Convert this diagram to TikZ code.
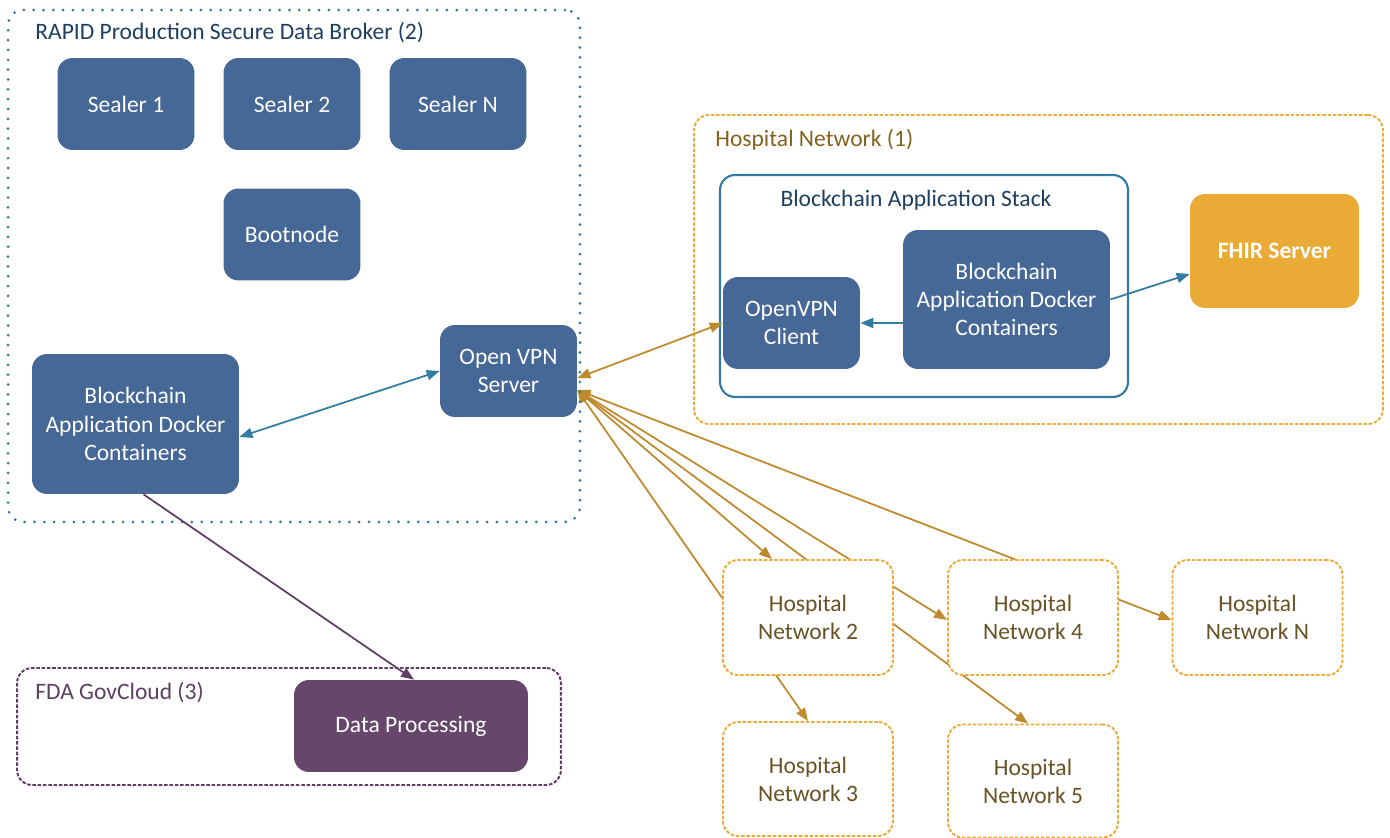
\documentclass[tikz,border=0pt]{standalone}
\usepackage{fontspec}
\setmainfont{Carlito}
\usetikzlibrary{arrows.meta,positioning,calc}
\pgfdeclarelayer{back}
\pgfsetlayers{back,main}

\definecolor{boxBlue}{RGB}{70,104,150}
\definecolor{lineBlue}{RGB}{49,124,160}
\definecolor{dotBlue}{RGB}{46,117,160}
\definecolor{titleBlue}{RGB}{31,63,96}
\definecolor{hospLine}{RGB}{190,138,45}
\definecolor{hospEdge}{RGB}{236,170,56}
\definecolor{hospText}{RGB}{105,82,35}
\definecolor{hospTitle}{RGB}{130,98,30}
\definecolor{fhirFill}{RGB}{233,171,53}
\definecolor{dpFill}{RGB}{103,70,107}
\definecolor{dpEdge}{RGB}{95,62,100}

\begin{document}
\begin{tikzpicture}[x=0.02cm, y=-0.02cm,
            >={Triangle[length=0.26cm,width=0.2cm]},
            every node/.style={font=\fontsize{13.4}{16}\selectfont, align=center},
            blockbox/.style={fill=boxBlue, text=white, rounded corners=0.3cm,
                             minimum width=2.74cm, minimum height=1.84cm},
            dockbox/.style={blockbox, minimum width=4.14cm, minimum height=2.8cm},
            hospbox/.style={draw=hospEdge, fill=white, line width=1.1pt,
                            dash pattern=on 2pt off 1pt, rounded corners=0.3cm,
                            text=hospText, minimum width=3.4cm, minimum height=2.3cm},
            framebox/.style={rounded corners=0.3cm, inner sep=0pt},
            title/.style={anchor=west, inner sep=0pt},
            bluelink/.style={draw=lineBlue, line width=1pt},
            hosplink/.style={draw=hospLine, line width=1pt}]
        \useasboundingbox (0,0) rectangle (1390,838);

        \node[framebox, draw=dotBlue, line width=1.7pt, line cap=round,
              dash pattern=on 0pt off 5.6pt,
              minimum width=11.44cm, minimum height=10.24cm] (nodeBroker) at (294,266) {};
        \node[title, text=titleBlue] (nodeBrokerTitle) at (35,33) {RAPID Production Secure Data Broker (2)};

        \node[framebox, draw=hospEdge, line width=1.1pt, dash pattern=on 2pt off 1pt,
              minimum width=13.78cm, minimum height=6.18cm] (nodeHosp1) at (1038.5,269.5) {};
        \node[title, text=hospTitle] (nodeHosp1Title) at (715,140) {Hospital Network (1)};

        \node[framebox, draw=lineBlue, line width=1.2pt,
              minimum width=8.16cm, minimum height=4.44cm] (nodeStack) at (924,286) {};
        \node[inner sep=0pt, text=titleBlue] (nodeStackTitle) at (916,200) {Blockchain Application Stack};

        \node[framebox, draw=dpEdge, line width=1.1pt, dash pattern=on 2pt off 1pt,
              minimum width=10.88cm, minimum height=2.34cm] (nodeFDA) at (289,726.5) {};
        \node[title, text=dpEdge] (nodeFDATitle) at (35,693) {FDA GovCloud (3)};

        \node[blockbox] (nodeSealer1) at (126,104) {Sealer 1};
        \node[blockbox] (nodeSealer2) at (292,104) {Sealer 2};
        \node[blockbox] (nodeSealerN) at (458,104) {Sealer N};
        \node[blockbox] (nodeBoot) at (292,234.5) {Bootnode};
        \node[dockbox] (nodeDockL) at (135.5,424) {Blockchain\\Application Docker\\Containers};
        \node[blockbox] (nodeVPN) at (508.5,371) {Open VPN\\Server};

        \node[blockbox] (nodeClient) at (791.5,323) {OpenVPN\\Client};
        \node[dockbox, minimum height=2.78cm] (nodeDockR) at (1006.5,299.5) {Blockchain\\Application Docker\\Containers};
        \node[blockbox, fill=fhirFill, font=\fontsize{13.4}{16}\selectfont\bfseries,
              minimum width=3.38cm, minimum height=2.28cm] (nodeFHIR) at (1274.5,251) {FHIR Server};

        \node[blockbox, fill=dpFill, minimum width=4.68cm] (nodeDP) at (411,726) {Data Processing};

        \node[hospbox] (nodeHosp2) at (808,617.5) {Hospital\\Network 2};
        \node[hospbox] (nodeHosp4) at (1033,617.5) {Hospital\\Network 4};
        \node[hospbox] (nodeHospN) at (1257.5,617.5) {Hospital\\Network N};
        \node[hospbox, minimum height=2.28cm] (nodeHosp3) at (808,779) {Hospital\\Network 3};
        \node[hospbox, minimum height=2.26cm] (nodeHosp5) at (1033,781) {Hospital\\Network 5};

        \coordinate (hub) at ([yshift=-0.38cm]nodeVPN.east);

        \draw[bluelink, <->] ([yshift=-0.26cm]nodeDockL.east) -- (nodeVPN.west);
        \draw[hosplink, <->] ([yshift=-0.14cm]nodeVPN.east) -- (nodeClient.west);
        \draw[bluelink, ->] (nodeClient.east -| nodeDockR.west) -- (nodeClient.east);
        \draw[bluelink, ->] (nodeDockR.east) -- ([yshift=-0.46cm]nodeFHIR.west);
        \draw[draw=dpEdge, line width=1pt, ->] ([xshift=0.16cm]nodeDockL.south) -- ([xshift=0.06cm]nodeDP.north);

        \begin{pgfonlayer}{back}
            \draw[hosplink, <->] (hub) -- ([xshift=-0.72cm]nodeHosp2.north);
            \draw[hosplink, <->] (hub) -- (nodeHosp3.north);
            \draw[hosplink, <->] (hub) -- ([yshift=-0.05cm]nodeHosp4.west);
            \draw[hosplink, <->] (hub) -- ([xshift=-0.1cm]nodeHosp5.north);
            \draw[hosplink, <->] (hub) -- ([yshift=-0.05cm]nodeHospN.west);
        \end{pgfonlayer}
\end{tikzpicture}
\end{document}
